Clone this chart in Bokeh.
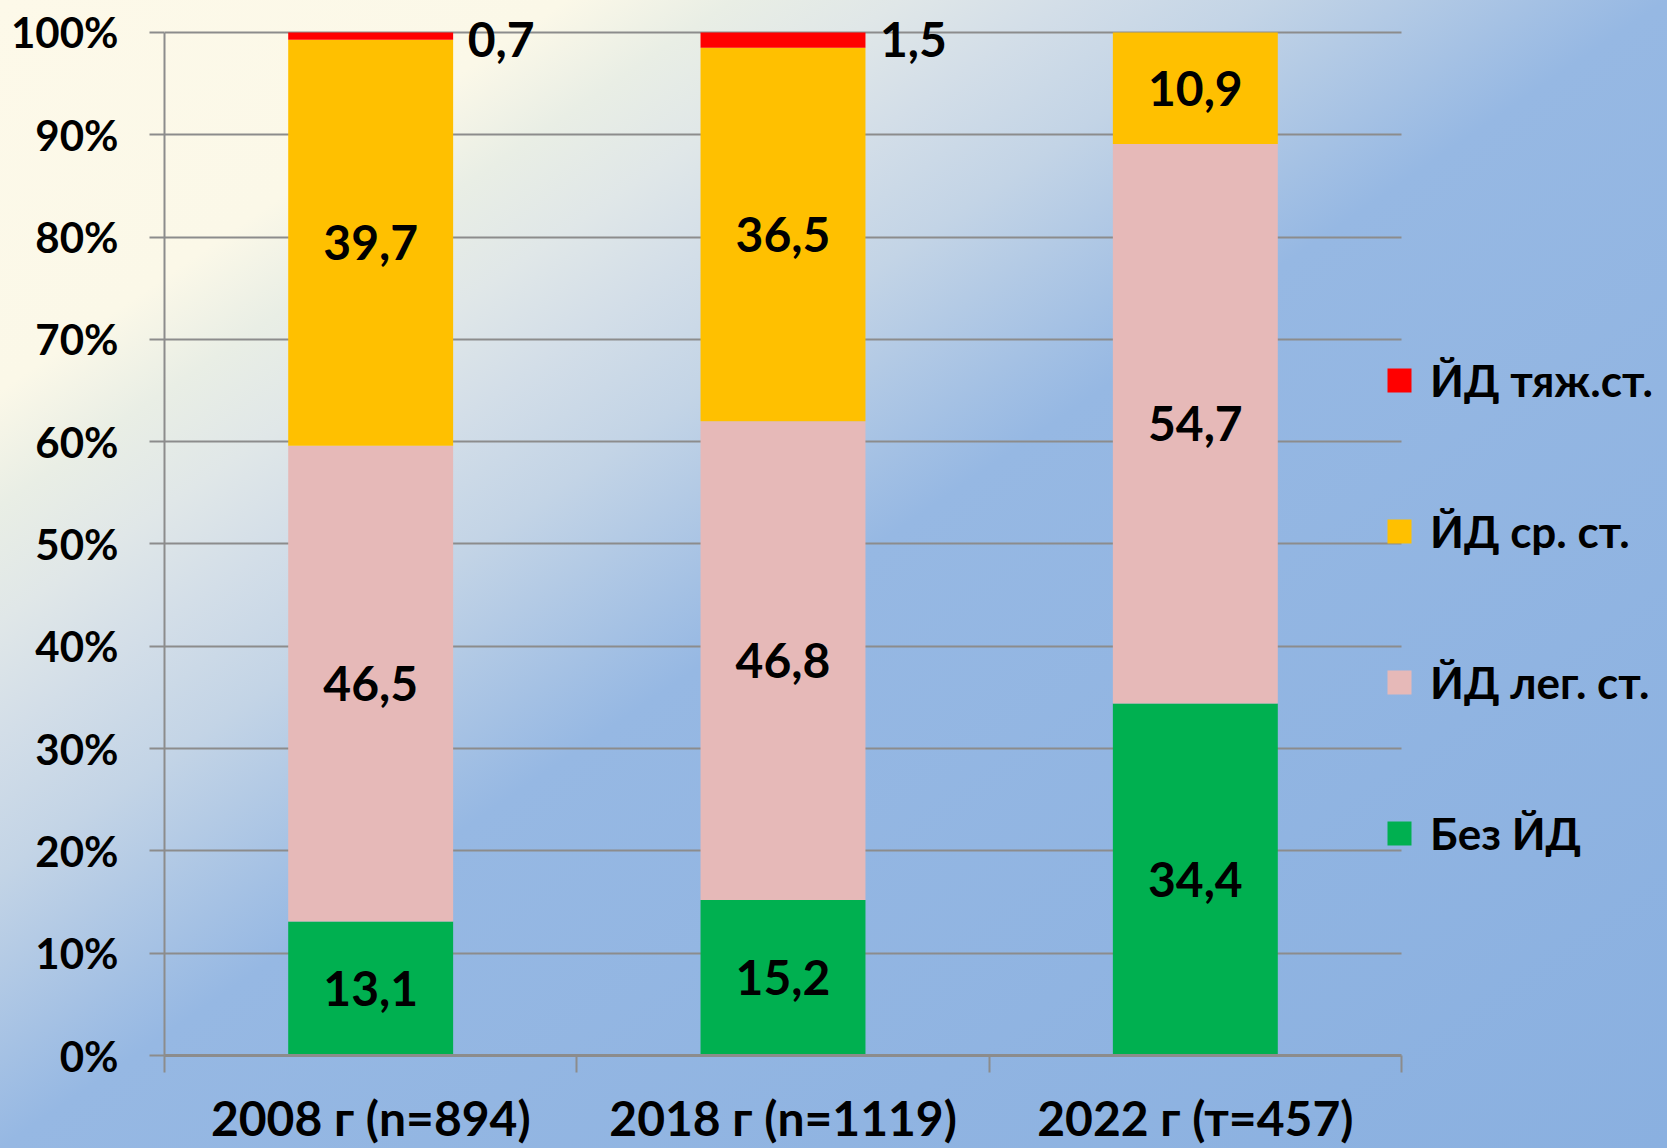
from bokeh.plotting import figure
from bokeh.models import Range1d, FixedTicker, Legend, LegendItem, ColumnDataSource
from bokeh.core.properties import value
from bokeh.embed import file_html
from bokeh.resources import INLINE

# ---------------- data ----------------
categories = ["2008 г (n=894)", "2018 г (n=1119)", "2022 г (т=457)"]
series_names = ["Без ЙД", "ЙД лег. ст.", "ЙД ср. ст.", "ЙД тяж.ст."]
bez_id = [13.1, 15.2, 34.4]
id_leg = [46.5, 46.8, 54.7]
id_sr = [39.7, 36.5, 10.9]
id_tyazh = [0.7, 1.5, 0.0]
colors = ["#00B050", "#E6B9B8", "#FFC000", "#FF0000"]
y_ticks = [0, 10, 20, 30, 40, 50, 60, 70, 80, 90, 100]
y_tick_labels = ["0%", "10%", "20%", "30%", "40%", "50%", "60%", "70%", "80%", "90%", "100%"]

# ---------------- layout / style ----------------
FONT = "Lato"
GRAY = "#8C8C8C"
W, H = 1667, 1148
LEFT, BOTTOM = 164, 92          # frame left / bottom border
AX_RIGHT = 1401                 # where the category axis ends (px)
AX_TOP = 32                     # where 100% sits (px)

n = len(categories)
x_end = n * (W - LEFT) / (AX_RIGHT - LEFT)
y_end = 100.0 * (H - BOTTOM) / (H - BOTTOM - AX_TOP)

xs = [i + 0.5 for i in range(n)]
bounds = [float(i) for i in range(n + 1)]

p = figure(width=W, height=H, output_backend="svg", toolbar_location=None,
           x_range=Range1d(0, x_end), y_range=Range1d(0, y_end),
           min_border_left=LEFT, min_border_right=0, min_border_top=0, min_border_bottom=BOTTOM)
p.background_fill_alpha = 0
p.border_fill_alpha = 0
p.outline_line_color = None
p.styles = {
    "background-color": "#B5CCE6",
    "background-image": "linear-gradient(to bottom right, #FDF9E9 0%, #FBF8E8 17%, #E9EEE5 22%, "
                        "#E0E7E8 27%, #D3DEE8 32%, #C3D4E6 38%, #96B8E3 50%, #8AB0E0 100%)",
    "background-size": f"{W}px {H}px",
    "background-repeat": "no-repeat",
}

stack_keys = ["bez", "leg", "sr", "tyazh"]
source = ColumnDataSource(dict(x=xs, bez=bez_id, leg=id_leg, sr=id_sr, tyazh=id_tyazh))
rends = p.vbar_stack(stack_keys, x="x", width=0.4, fill_color=colors, line_color=None, source=source)

# data labels
series = [bez_id, id_leg, id_sr, id_tyazh]
lx, ly, lt = [], [], []
ox, oy, ot = [], [], []
for j in range(n):
    bottom = 0.0
    for k, vals in enumerate(series):
        v = vals[j]
        if v > 0:
            txt = f"{v:.1f}".replace(".", ",")
            if k < 3:
                lx.append(xs[j]); ly.append(bottom + v / 2); lt.append(txt)
            else:
                ox.append(xs[j]); oy.append(bottom + v); ot.append(txt)
        bottom += v

p.text(x=lx, y=ly, text=lt, text_align="center", text_baseline="middle",
       text_font=value(FONT), text_font_style="bold", text_font_size="48px", text_color="black")
p.text(x=ox, y=oy, text=ot, text_align="left", text_baseline="middle", x_offset=97, y_offset=7,
       text_font=value(FONT), text_font_style="bold", text_font_size="48px", text_color="black")

# y axis
p.yaxis.ticker = FixedTicker(ticks=y_ticks)
p.yaxis.major_label_overrides = dict(zip(y_ticks, y_tick_labels))
p.yaxis.bounds = (0, 100)
p.yaxis.axis_line_color = GRAY
p.yaxis.axis_line_width = 2
p.yaxis.major_tick_out = 15
p.yaxis.major_tick_in = 0
p.yaxis.major_tick_line_color = GRAY
p.yaxis.major_tick_line_width = 2
p.yaxis.minor_tick_line_color = None
p.yaxis.major_label_standoff = 31
p.yaxis.major_label_text_font = FONT
p.yaxis.major_label_text_font_style = "bold"
p.yaxis.major_label_text_font_size = "42px"
p.yaxis.major_label_text_color = "black"

# x axis
p.xaxis.ticker = FixedTicker(ticks=xs, minor_ticks=bounds)
p.xaxis.major_label_overrides = dict(zip(xs, categories))
p.xaxis.bounds = (0, n)
p.xaxis.axis_line_color = GRAY
p.xaxis.axis_line_width = 3
p.xaxis.major_tick_out = 0
p.xaxis.major_tick_in = 0
p.xaxis.minor_tick_out = 17
p.xaxis.minor_tick_in = 0
p.xaxis.minor_tick_line_color = GRAY
p.xaxis.minor_tick_line_width = 2
p.xaxis.major_label_standoff = 16
p.xaxis.major_label_text_font = FONT
p.xaxis.major_label_text_font_style = "bold"
p.xaxis.major_label_text_font_size = "48px"
p.xaxis.major_label_text_color = "black"

# grid
p.xgrid.grid_line_color = None
p.ygrid.ticker = FixedTicker(ticks=y_ticks)
p.ygrid.cross_bounds = (0, n)
p.ygrid.grid_line_color = GRAY
p.ygrid.grid_line_width = 2

# legend (top item = heaviest)
items = [LegendItem(label=series_names[k], renderers=[rends[k]]) for k in reversed(range(len(series_names)))]
legend = Legend(items=items, location=(1220, 192), orientation="vertical",
                background_fill_alpha=0, border_line_color=None, padding=0, margin=0,
                spacing=91, glyph_width=30, glyph_height=30, label_height=60, label_standoff=16,
                label_text_font=FONT, label_text_font_style="bold", label_text_font_size="44px",
                label_text_color="black")
p.add_layout(legend)

open("out.html", "w").write(file_html(p, INLINE))
